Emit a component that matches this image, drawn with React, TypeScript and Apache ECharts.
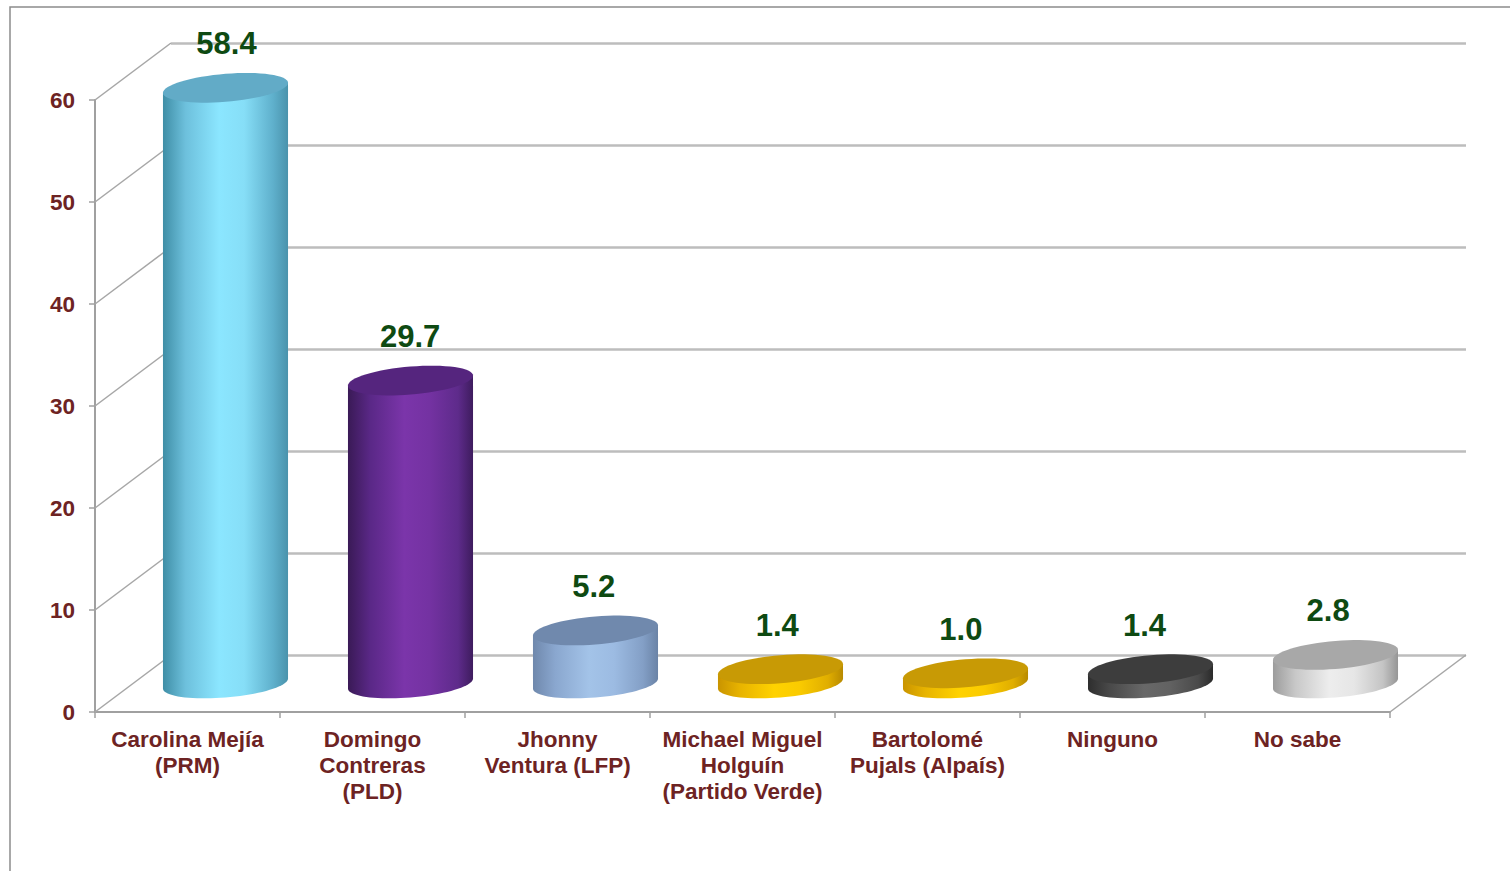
import React, { useEffect, useRef } from 'react';
import * as echarts from 'echarts';

const categories = [
  'Carolina Mejía\n(PRM)',
  'Domingo\nContreras\n(PLD)',
  'Jhonny\nVentura (LFP)',
  'Michael Miguel\nHolguín\n(Partido Verde)',
  'Bartolomé\nPujals (Alpaís)',
  'Ninguno',
  'No sabe',
];
const values = [58.4, 29.7, 5.2, 1.4, 1.0, 1.4, 2.8];
const yTicks = [0, 10, 20, 30, 40, 50, 60];

const bodyStops: string[][] = [
  ['#3F8EA6', '#6DC0DC', '#8BE6FF', '#86DEF7', '#5FB0CC', '#4A93AC'],
  ['#3A1A56', '#5A2887', '#7B35AA', '#7432A2', '#5E2B8B', '#3E1C5E'],
  ['#6F88AC', '#8AA7CF', '#A3C3E8', '#9CBBE2', '#839FC6', '#6A83A6'],
  ['#C99400', '#E8B400', '#FFD200', '#FACB00', '#E0AE00', '#B88A00'],
  ['#C99400', '#E8B400', '#FFD200', '#FACB00', '#E0AE00', '#B88A00'],
  ['#2E2E2E', '#4A4A4A', '#686868', '#626262', '#4A4A4A', '#2A2A2A'],
  ['#9C9C9C', '#C8C8C8', '#EDEDED', '#E6E6E6', '#C4C4C4', '#959595'],
];
const topColors = ['#62ABC7', '#55257E', '#7089AD', '#C89A05', '#C89A05', '#3D3D3D', '#A8A8A8'];

const LABEL_COLOR = '#6D2323';
const VALUE_COLOR = '#0E4A12';
const FONT = '"Liberation Sans", Arial, sans-serif';

const DX = 76;
const DY = -57;
const RX_RATIO = 0.338;
const RY = 14;
const SHEAR = 0.08;

function ellipsePts(cx: number, cy: number, rx: number, ry: number, t0: number, t1: number, n: number) {
  const pts: number[][] = [];
  for (let k = 0; k <= n; k++) {
    const t = t0 + ((t1 - t0) * k) / n;
    const c = Math.cos(t);
    const s = Math.sin(t);
    pts.push([cx + rx * c, cy + ry * s - SHEAR * rx * c]);
  }
  return pts;
}

export default function App() {
  const ref = useRef<HTMLDivElement>(null);
  useEffect(() => {
    if (!ref.current) return;
    const chart = echarts.init(ref.current, undefined, { renderer: 'svg' });
    const option: any = {
      animation: false,
      backgroundColor: '#ffffff',
      graphic: [
        {
          type: 'rect',
          shape: { x: 10, y: 7, width: 1700, height: 1000 },
          style: { fill: 'none', stroke: '#8C8C8C', lineWidth: 1.5 },
          silent: true,
          z: -10,
        },
      ],
      grid: [
        { left: 95, top: 100, width: 1295, height: 612 },
        { left: 95 + DX, top: 100 + DY, width: 1295, height: 612 },
      ],
      xAxis: [
        {
          type: 'category',
          gridIndex: 0,
          data: categories,
          axisLine: { show: true, lineStyle: { color: '#A0A0A0', width: 2 } },
          axisTick: { show: true, length: 6, lineStyle: { color: '#A0A0A0', width: 1.5 } },
          axisLabel: {
            interval: 0,
            color: LABEL_COLOR,
            fontSize: 22.5,
            fontWeight: 'bold',
            fontFamily: FONT,
            lineHeight: 26,
            margin: 14,
          },
        },
        {
          type: 'category',
          gridIndex: 1,
          data: categories,
          show: false,
        },
      ],
      yAxis: [
        {
          type: 'value',
          gridIndex: 0,
          min: 0,
          max: 60,
          interval: 10,
          axisLine: { show: true, lineStyle: { color: '#A0A0A0', width: 2 } },
          axisTick: { show: true, length: 6, lineStyle: { color: '#A0A0A0', width: 1.5 } },
          splitLine: { show: false },
          axisLabel: {
            color: LABEL_COLOR,
            fontSize: 22.5,
            fontWeight: 'bold',
            fontFamily: FONT,
            margin: 20,
          },
        },
        {
          type: 'value',
          gridIndex: 1,
          min: 0,
          max: 60,
          interval: 10,
          axisLine: { show: false },
          axisTick: { show: false },
          axisLabel: { show: false },
          splitLine: { show: true, lineStyle: { color: '#BDBDBD', width: 2.5 } },
        },
      ],
      series: [
        {
          type: 'custom',
          name: 'depthLines',
          xAxisIndex: 0,
          yAxisIndex: 0,
          z: 1,
          clip: false,
          silent: true,
          data: yTicks.map((v) => [0, v]),
          renderItem: (params: any, api: any) => {
            const cs = params.coordSys;
            const v = api.value(1);
            const y = api.coord([0, v])[1];
            const style = { stroke: '#A6A6A6', lineWidth: 1.5 };
            const children: any[] = [
              { type: 'line', shape: { x1: cs.x, y1: y, x2: cs.x + DX, y2: y + DY }, style },
            ];
            if (v === 0) {
              const xr = cs.x + cs.width;
              children.push({ type: 'line', shape: { x1: xr, y1: y, x2: xr + DX, y2: y + DY }, style });
            }
            return { type: 'group', children };
          },
        },
        {
          type: 'custom',
          name: 'cylinders',
          xAxisIndex: 0,
          yAxisIndex: 0,
          z: 3,
          clip: false,
          data: values.map((v, i) => [i, v]),
          renderItem: (params: any, api: any) => {
            const i = api.value(0);
            const v = api.value(1);
            const p0 = api.coord([i, 0]);
            const pv = api.coord([i, v]);
            const bw = api.size([1, 0])[0];
            const rx = bw * RX_RATIO;
            const cx = p0[0] + DX / 2;
            const cyB = p0[1] + DY / 2;
            const cyT = pv[1] + DY / 2;
            const body = [
              [cx - rx, cyT + SHEAR * rx],
              [cx + rx, cyT - SHEAR * rx],
              ...ellipsePts(cx, cyB, rx, RY, 0, Math.PI, 40),
            ];
            const stops = bodyStops[i];
            const offs = [0, 0.18, 0.45, 0.65, 0.88, 1];
            const grad = new echarts.graphic.LinearGradient(
              0, 0, 1, 0,
              stops.map((c, k) => ({ offset: offs[k], color: c }))
            );
            const top = ellipsePts(cx, cyT, rx, RY, 0, Math.PI * 2, 64);
            return {
              type: 'group',
              children: [
                { type: 'polygon', shape: { points: body }, style: { fill: grad } },
                { type: 'polygon', shape: { points: top }, style: { fill: topColors[i] } },
                {
                  type: 'text',
                  x: cx + 1 - 1.4 * i,
                  y: cyT - 44,
                  style: {
                    text: v.toFixed(1),
                    fill: VALUE_COLOR,
                    fontSize: 31,
                    fontWeight: 'bold',
                    fontFamily: FONT,
                    align: 'center',
                    verticalAlign: 'middle',
                  },
                },
              ],
            };
          },
        },
      ],
    };
    chart.setOption(option);
    return () => chart.dispose();
  }, []);
  return (
    <div
      ref={ref}
      style={{ position: 'absolute', left: 0, top: 0, width: 1510, height: 871 }}
    />
  );
}
